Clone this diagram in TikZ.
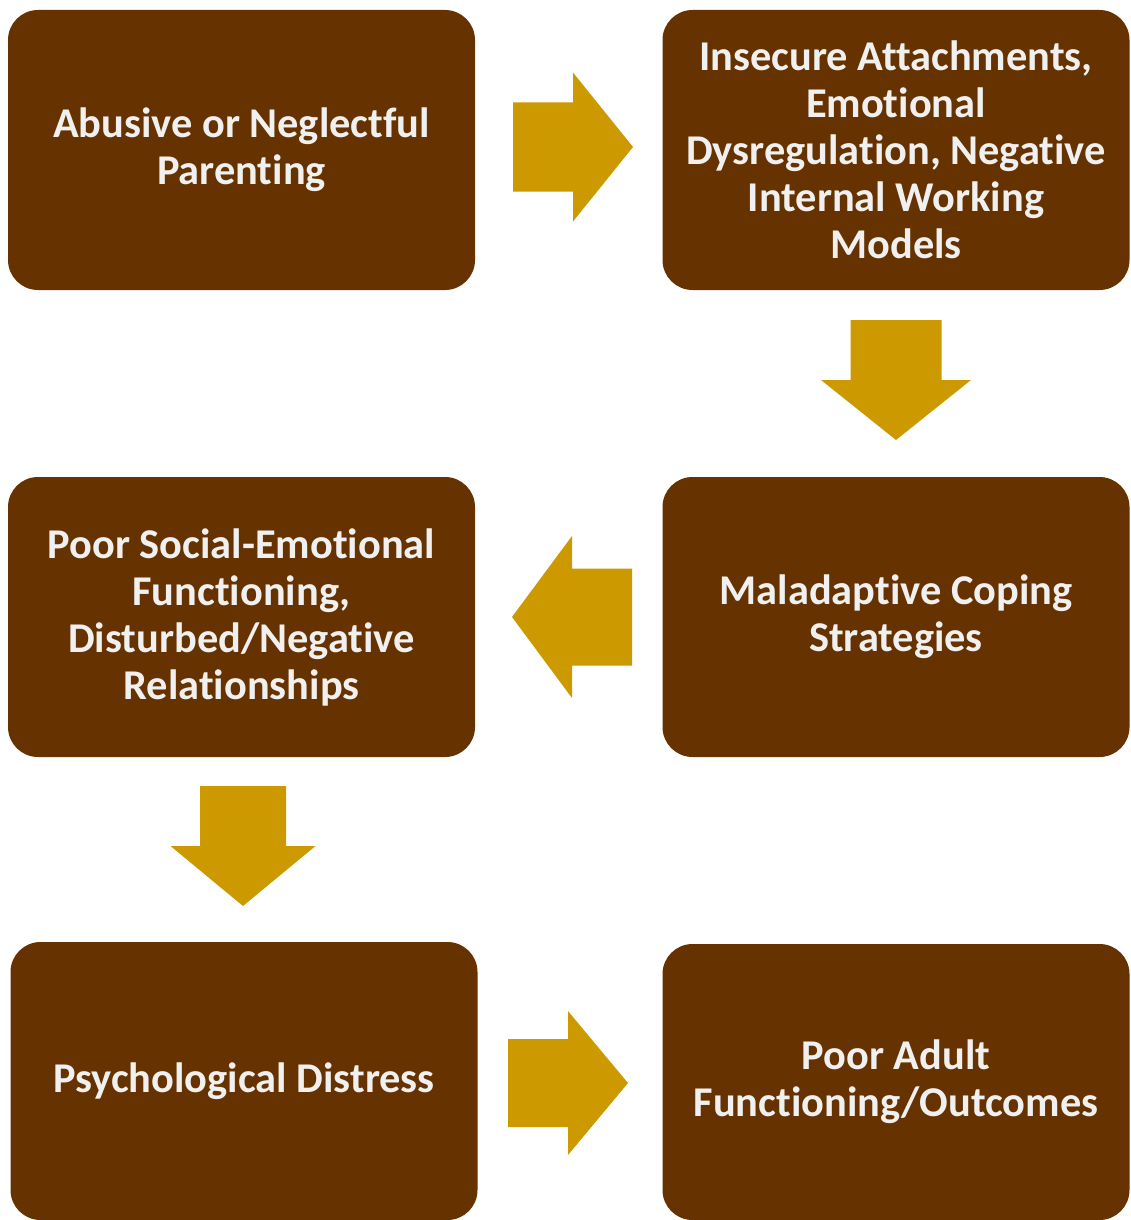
\documentclass[tikz,border=0pt]{standalone}
\usepackage{fontspec}
\setmainfont[RawFeature=-liga]{Carlito}
\definecolor{brownbox}{HTML}{663300}
\definecolor{goldarrow}{HTML}{CC9900}
\definecolor{boxtext}{HTML}{F0F0F0}
\newcommand{\blockarrow}[4]{\fill[goldarrow,shift={(#1)},rotate=#2] (-60,-#3) -- (0,-#3) -- (0,-#4) -- (60,0) -- (0,#4) -- (0,#3) -- (-60,#3) -- cycle;}

\begin{document}
\begin{tikzpicture}[x=0.5pt,y=-0.5pt,
  stagebox/.style={fill=brownbox,rounded corners=15pt,minimum width=233.5pt,minimum height=140pt,
    text=boxtext,font=\fontsize{21.2}{23.5}\selectfont\bfseries,align=center,inner sep=0pt}]
  \useasboundingbox (0,0) rectangle (1130,1220);
  \node[stagebox] (parenting) at (241.5,150) {Abusive or Neglectful\\Parenting};
  \node[stagebox] (attachment) at (896,150) {Insecure Attachments,\\Emotional\\Dysregulation, Negative\\Internal Working\\Models};
  \node[stagebox] (coping) at (896,617) {Maladaptive Coping\\Strategies};
  \node[stagebox] (social) at (241.5,617) {Poor Social-Emotional\\Functioning,\\Disturbed/Negative\\Relationships};
  \node[stagebox,minimum height=139pt] (distress) at (244,1081) {Psychological Distress};
  \node[stagebox,minimum height=138pt] (outcomes) at (896,1082) {Poor Adult\\Functioning/Outcomes};
  \blockarrow{573,147}{0}{44.5}{74.5}
  \blockarrow{896,380}{-90}{45.5}{75}
  \blockarrow{572,617}{180}{48.5}{81}
  \blockarrow{243,846}{-90}{43}{72.5}
  \blockarrow{568,1083}{0}{44}{72}
\end{tikzpicture}
\end{document}
